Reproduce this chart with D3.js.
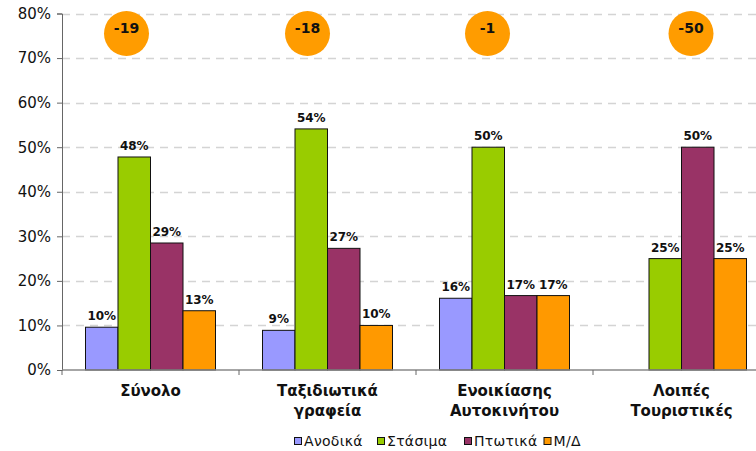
<!DOCTYPE html>
<html><head><meta charset="utf-8">
<script src="https://cdn.jsdelivr.net/npm/d3@7"></script>
<style>body{margin:0;background:#fff}svg{display:block}text{font-family:"DejaVu Sans",Verdana,sans-serif}</style>
</head><body><div id="chart"></div>
<script>
const categories = [["Σύνολο"], ["Ταξιδιωτικά", "γραφεία"], ["Ενοικίασης", "Αυτοκινήτου"], ["Λοιπές", "Τουριστικές"]];
const seriesNames = ["Ανοδικά", "Στάσιμα", "Πτωτικά", "Μ/Δ"];
const anodika = [9.6, 8.9, 16.1, null];
const stasima = [47.8, 54.1, 50.0, 25.0];
const ptotika = [28.5, 27.3, 16.7, 50.0];
const md = [13.3, 10.0, 16.7, 25.0];
const valueLabels = [["10%", "9%", "16%", null], ["48%", "54%", "50%", "25%"], ["29%", "27%", "17%", "50%"], ["13%", "10%", "17%", "25%"]];
const balances = ["-19", "-18", "-1", "-50"];
const yTicks = [0, 10, 20, 30, 40, 50, 60, 70, 80];

const colors = ["#9999FF", "#99CC00", "#993366", "#FF9900"];
const circleOffsets = [-24, -20, -17, 9.5];
const W = 756, H = 451;
const series = [anodika, stasima, ptotika, md];

const svg = d3.select("#chart").append("svg").attr("width", W).attr("height", H);
const x0 = d3.scaleBand().domain(d3.range(categories.length)).range([62, 770]).paddingInner(0).paddingOuter(0);
const x1 = d3.scaleBand().domain(d3.range(series.length)).range([23.5, x0.bandwidth() - 23.5]);
const y = d3.scaleLinear().domain([0, 80]).range([370, 13.5]);

// gridlines
svg.append("g").selectAll("line").data(yTicks.filter(t => t > 0)).join("line")
  .attr("x1", 62).attr("x2", W).attr("y1", d => Math.round(y(d)) + 0.5).attr("y2", d => Math.round(y(d)) + 0.5)
  .attr("stroke", "#d4d4d4").attr("stroke-width", 1.3).attr("stroke-dasharray", "8,6");

// bars
const g = svg.append("g");
series.forEach((vals, si) => {
  g.selectAll(null).data(vals.map((v, ci) => ({v, ci}))).join("rect")
    .filter(d => d.v != null)
    .attr("x", d => x0(d.ci) + x1(si))
    .attr("width", x1.bandwidth())
    .attr("y", d => y(d.v))
    .attr("height", d => y(0) - y(d.v))
    .attr("fill", colors[si]).attr("stroke", "#111").attr("stroke-width", 1);
  g.selectAll(null).data(vals.map((v, ci) => ({v, ci}))).join("text")
    .filter(d => d.v != null)
    .attr("x", d => x0(d.ci) + x1(si) + x1.bandwidth() / 2)
    .attr("y", d => y(d.v) - 7)
    .attr("text-anchor", "middle").attr("font-size", 12).attr("font-weight", "bold").attr("fill", "#111")
    .text(d => valueLabels[si][d.ci]);
});

// y axis
const ya = svg.append("g").attr("transform", "translate(62,0)")
  .call(d3.axisLeft(y).tickValues(yTicks).tickFormat(d => d + "%").tickSize(5).tickPadding(6));
ya.select(".domain").attr("stroke", "#666");
ya.selectAll(".tick line").attr("stroke", "#666");
ya.selectAll(".tick text").attr("font-size", 15).attr("fill", "#111").attr("font-family", "DejaVu Sans");

// x axis
const xa = svg.append("g").attr("transform", "translate(0,370)");
xa.append("line").attr("x1", 62).attr("x2", W).attr("stroke", "#888").attr("stroke-width", 1.5);
xa.selectAll("line.tk").data(d3.range(categories.length)).join("line").attr("class", "tk")
  .attr("x1", d => x0(d)).attr("x2", d => x0(d)).attr("y1", 0).attr("y2", 5).attr("stroke", "#666");
const cl = xa.selectAll("text").data(categories).join("text")
  .attr("text-anchor", "middle").attr("font-size", 15).attr("font-weight", "bold").attr("fill", "#111")
  .attr("transform", (d, i) => `translate(${x0(i) + x0.bandwidth() / 2},26)`);
cl.selectAll("tspan").data(d => d).join("tspan").attr("x", 0).attr("dy", (d, i) => i ? 19.5 : 0).text(d => d);

// balance circles
const cg = svg.append("g");
balances.forEach((b, i) => {
  const cx = x0(i) + x0.bandwidth() / 2 + circleOffsets[i];
  cg.append("circle").attr("cx", cx).attr("cy", 33.5).attr("r", 22.5).attr("fill", "#FF9C00");
  cg.append("text").attr("x", cx).attr("y", 32.5).attr("text-anchor", "middle")
    .attr("font-size", 14).attr("font-weight", "bold").attr("fill", "#111").text(b);
});

// legend
const legendX = [294, 377, 464, 543.5];
const lg = svg.append("g");
seriesNames.forEach((n, i) => {
  lg.append("rect").attr("x", legendX[i] + 0.5).attr("y", 437.5).attr("width", 7).attr("height", 7)
    .attr("fill", colors[i]).attr("stroke", "#111").attr("stroke-width", 1);
  lg.append("text").attr("x", legendX[i] + 10).attr("y", 445.5).attr("font-size", 14)
    .attr("letter-spacing", 0.3).attr("fill", "#111").text(n);
});
</script></body></html>
